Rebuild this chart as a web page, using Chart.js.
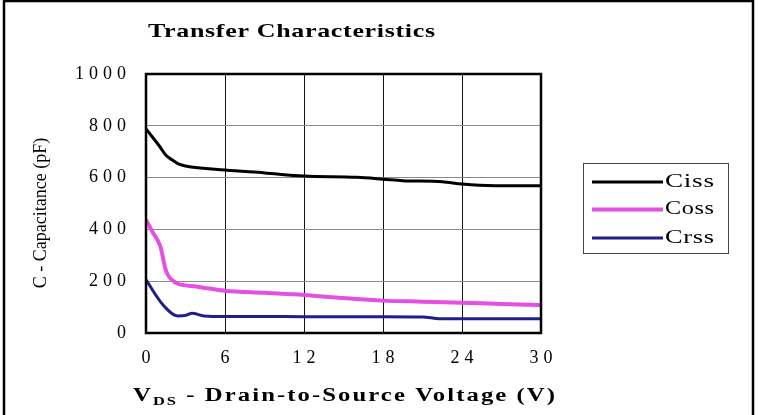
<!DOCTYPE html>
<html>
<head>
<meta charset="utf-8">
<script src="https://cdn.jsdelivr.net/npm/chart.js@4/dist/chart.umd.min.js"></script>
<style>
  html, body { margin: 0; padding: 0; background: #fff; }
  #wrap { width: 759px; height: 415px; position: relative; }
</style>
</head>
<body>
<div id="wrap"><canvas id="chartCanvas"></canvas></div>
<script>
    const judul = 'Transfer Characteristics';
    const judulY = 'C - Capacitance (pF)';
    const judulX = ['V', 'DS', ' - Drain-to-Source Voltage (V)'];

    const seriesNames = ['Ciss', 'Coss', 'Crss'];
    const seriesColors = ['#000000', '#e44fe4', '#1f1f88'];
    const seriesWidths = [3, 4, 3];

    // nilai (V, pF)
    const vdsCiss = [0, 1, 1.5, 2, 2.5, 3, 6, 9, 12, 16, 18, 19.5, 22.5, 24, 26.5, 30];
    const ciss = [788, 723, 687, 668, 652, 645, 629, 618, 606, 601, 594, 588, 584, 575, 569, 569];

    const vdsCoss = [0, 0.5, 1.1, 1.5, 2.3, 3, 4, 6, 9, 12, 15, 18, 21, 24, 27, 30];
    const coss = [436, 390, 333, 243, 193, 184, 178, 163, 155, 147, 135, 125, 121, 117, 112, 108];

    const vdsCrss = [0, 1.3, 2.4, 3, 3.5, 4.4, 6, 9, 12, 15, 18, 21, 22.3, 24, 27, 30];
    const crss = [205, 108, 66, 68, 76, 66, 64, 64, 63, 63, 63, 62, 55, 55, 55, 55];

    const xTicks = [0, 6, 12, 18, 24, 30];
    const yTicks = [0, 200, 400, 600, 800, 1000];

    const serif = "'Liberation Serif', 'Times New Roman', serif";
    const tickSpacing = 5;

    function toPoints(xs, ys) {
      return xs.map((v, i) => ({ x: v, y: ys[i] }));
    }

    // tulis teks yang direntang ke lebar tertentu
    function drawFitted(ctx, parts, x, y, width, spacing) {
      ctx.save();
      ctx.letterSpacing = spacing + 'px';
      let natural = 0;
      parts.forEach(p => {
        ctx.font = p.font;
        p.w = ctx.measureText(p.text).width;
        natural += p.w;
      });
      natural -= spacing;
      ctx.translate(x, y);
      ctx.scale(width / natural, 1);
      ctx.textAlign = 'left';
      ctx.textBaseline = 'middle';
      ctx.fillStyle = '#000';
      let cx = 0;
      parts.forEach(p => {
        ctx.font = p.font;
        ctx.fillText(p.text, cx, p.dy || 0);
        cx += p.w;
      });
      ctx.restore();
    }

    const hiasan = {
      id: 'hiasan',
      beforeDraw(chart) {
        chart.ctx.letterSpacing = tickSpacing + 'px';
      },
      afterDatasetsDraw(chart) {
        const { ctx, chartArea: a } = chart;
        ctx.save();
        ctx.strokeStyle = '#000';
        ctx.lineWidth = 2.5;
        ctx.strokeRect(a.left, a.top, a.right - a.left, a.bottom - a.top);
        ctx.restore();
      },
      afterDraw(chart) {
        const ctx = chart.ctx;
        ctx.save();
        ctx.letterSpacing = '0px';

        // bingkai luar
        ctx.strokeStyle = '#000';
        ctx.lineWidth = 2.5;
        ctx.strokeRect(4, 1, 749, 430);

        // judul
        drawFitted(ctx, [{ text: judul, font: 'bold 19px ' + serif }], 148, 32, 287, 0.5);

        // judul sumbu x dengan subscript
        drawFitted(ctx, [
          { text: judulX[0], font: 'bold 18px ' + serif },
          { text: judulX[1], font: 'bold 12px ' + serif, dy: 6 },
          { text: judulX[2], font: 'bold 18px ' + serif }
        ], 133, 396, 422, 1.5);

        // judul sumbu y
        ctx.save();
        ctx.translate(41, 213);
        ctx.rotate(-Math.PI / 2);
        ctx.font = '18px ' + serif;
        ctx.fillStyle = '#000';
        ctx.textAlign = 'center';
        ctx.textBaseline = 'middle';
        ctx.fillText(judulY, 0, 0);
        ctx.restore();

        // legenda
        ctx.strokeStyle = '#444';
        ctx.lineWidth = 1;
        ctx.strokeRect(583.5, 163.5, 145, 90);
        const rowsY = [182, 209.5, 238];
        chart.data.datasets.forEach((ds, i) => {
          ctx.strokeStyle = ds.borderColor;
          ctx.lineWidth = ds.borderWidth;
          ctx.beginPath();
          ctx.moveTo(592, rowsY[i]);
          ctx.lineTo(663, rowsY[i]);
          ctx.stroke();
          drawFitted(ctx, [{ text: ds.label, font: '19px ' + serif }], 665, rowsY[i], 49, 0.5);
        });
        ctx.restore();
      }
    };

    const datasets = [
      toPoints(vdsCiss, ciss),
      toPoints(vdsCoss, coss),
      toPoints(vdsCrss, crss)
    ].map((pts, i) => ({
      label: seriesNames[i],
      data: pts,
      borderColor: seriesColors[i],
      backgroundColor: seriesColors[i],
      borderWidth: seriesWidths[i],
      pointRadius: 0,
      fill: false,
      cubicInterpolationMode: 'monotone'
    }));

    const ctx = document.getElementById('chartCanvas').getContext('2d');
    window.chartInstance = new Chart(ctx, {
      type: 'line',
      data: { datasets },
      options: {
        responsive: true,
        maintainAspectRatio: false,
        animation: false,
        layout: { padding: { top: 74, right: 218, left: 0, bottom: 0 } },
        plugins: {
          legend: { display: false },
          title: { display: false },
          tooltip: { enabled: false }
        },
        scales: {
          x: {
            type: 'linear',
            min: xTicks[0],
            max: xTicks[xTicks.length - 1],
            afterBuildTicks: s => { s.ticks = xTicks.map(v => ({ value: v })); },
            afterFit: s => { s.height = 82; },
            grid: { color: '#111', lineWidth: 1, drawTicks: false },
            border: { display: false },
            ticks: {
              autoSkip: false,
              maxRotation: 0,
              padding: 14,
              labelOffset: tickSpacing / 2,
              color: '#000',
              font: { family: serif, size: 18 },
              callback: v => String(v)
            }
          },
          y: {
            min: yTicks[0],
            max: yTicks[yTicks.length - 1],
            afterBuildTicks: s => { s.ticks = yTicks.map(v => ({ value: v })); },
            afterFit: s => { s.width = 146; },
            grid: { color: '#8a8a8a', lineWidth: 1, drawTicks: false },
            border: { display: false },
            ticks: {
              padding: 15,
              color: '#000',
              font: { family: serif, size: 18 },
              callback: v => String(v)
            }
          }
        }
      },
      plugins: [hiasan]
    });
</script>
</body>
</html>
